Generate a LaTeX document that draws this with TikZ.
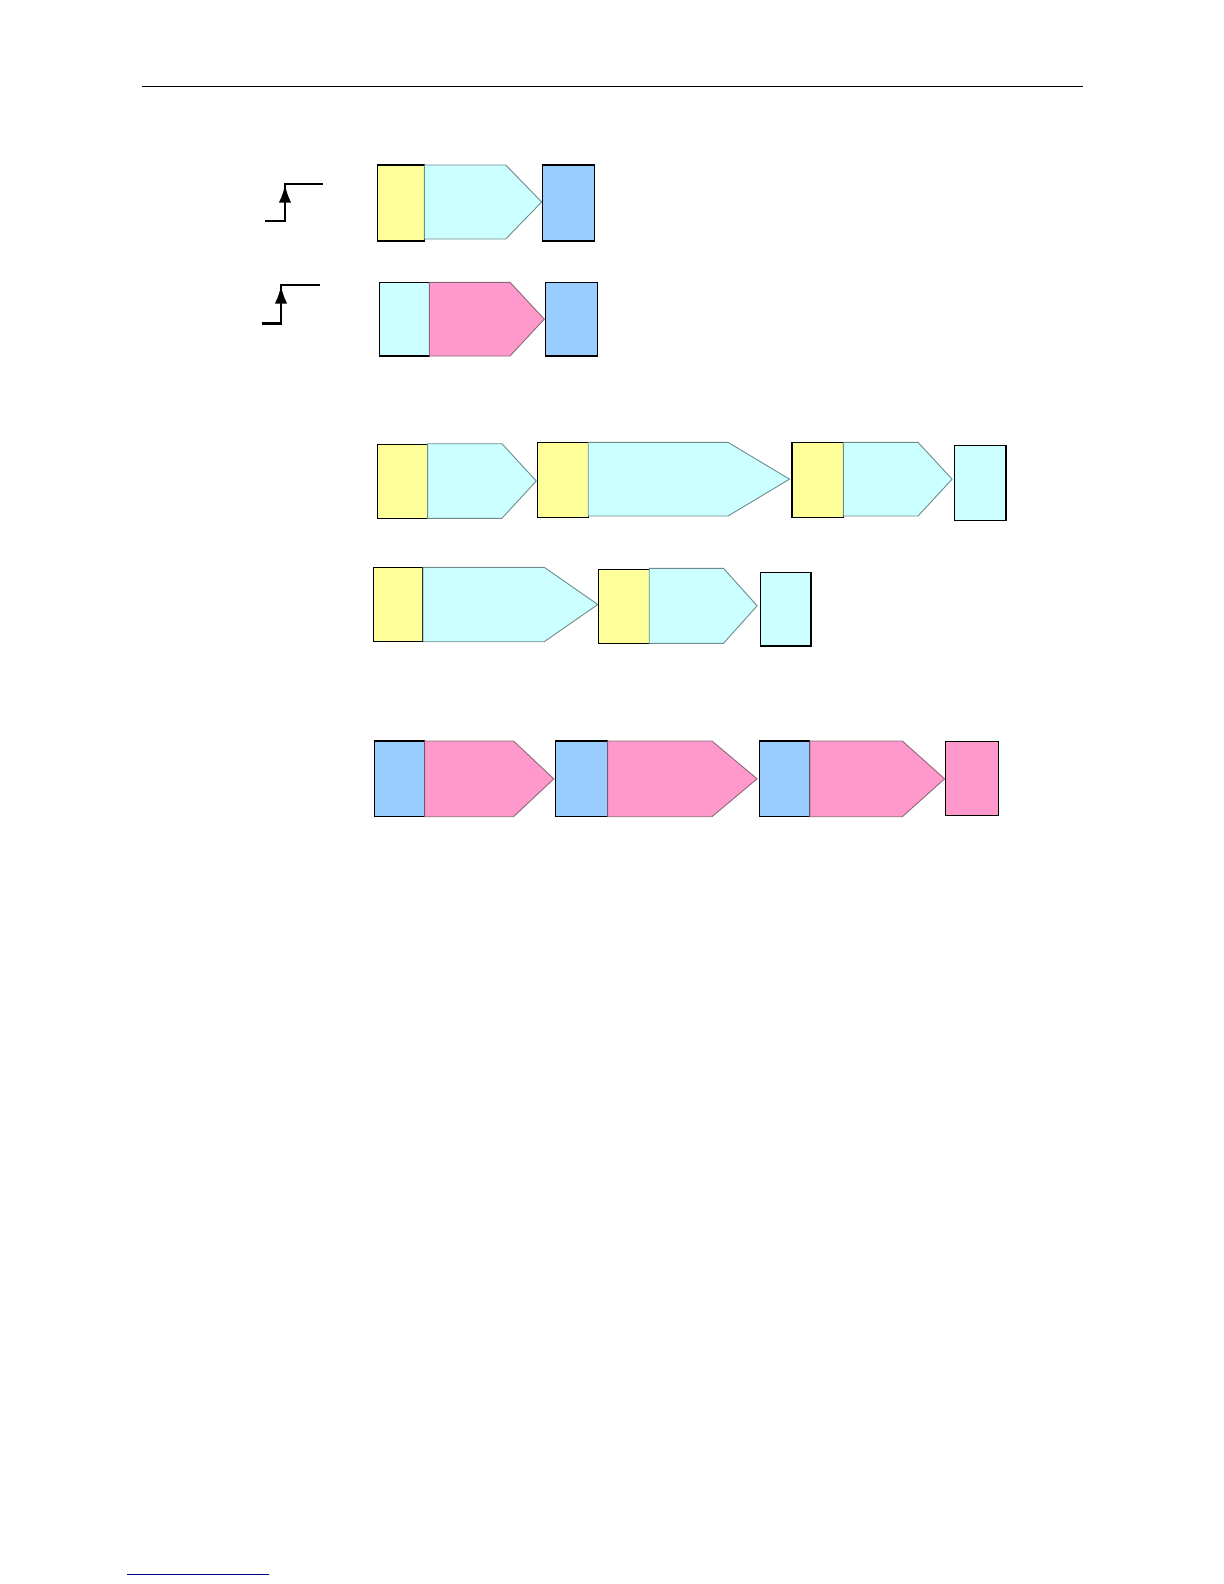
\documentclass[tikz,border=0pt]{standalone}
\usetikzlibrary{arrows.meta}
\definecolor{cyell}{HTML}{FFFF99}
\definecolor{ccyan}{HTML}{CCFFFF}
\definecolor{cblue}{HTML}{99CCFF}
\definecolor{cpink}{HTML}{FF99CC}
\definecolor{cyanedge}{RGB}{110,140,140}
\definecolor{pinkedge}{RGB}{140,105,120}
\definecolor{navyline}{RGB}{0,0,128}
\tikzset{
  box/.style={draw=black,line width=0.55pt},
  penta/.style={line width=0.45pt,line join=miter},
  stepline/.style={line width=1.4pt},
  steptip/.style={-{Latex[length=9pt,width=6.2pt]},line width=1.4pt}
}
% \pentarrow{color}{edge}{xleft}{xshoulder}{xtip}{ytop}{ybot}
\newcommand\pentarrow[7]{%
  \path[penta,fill=#1,draw=#2] (#3,#6) -- (#4,#6) -- (#5,{(#6+#7)/2}) -- (#4,#7) -- (#3,#7) -- cycle;}
\newcommand\rbox[5]{%
  \path[box,fill=#1] (#2,#3) rectangle (#4,#5);}
\begin{document}
\begin{tikzpicture}[x=0.5pt,y=-0.5pt]
\useasboundingbox[fill=white] (0,0) rectangle (1224,1584);
% header rule
\draw[line width=0.6pt] (141.5,86.7) coordinate (hl) -- (1082.5,86.7) coordinate (hr);
% footer rule
\draw[navyline,line width=0.6pt] (127.3,1574.7) coordinate (fl) -- (269,1574.7) coordinate (fr);

% step symbols
\draw[stepline] (265,221) -- (285,221) -- (285,184) -- (322.7,184);
\draw[steptip] (285,208) -- (285,184.5);
\draw[stepline] (261.7,323.3) -- (281,323.3) -- (281,285) -- (320,285);
\draw[steptip] (281,310) -- (281,285.5);

% row 1
\rbox{cyell}{377.3}{165}{424.3}{241}
\pentarrow{ccyan}{cyanedge}{424.3}{505.7}{541.7}{165}{239}
\rbox{cblue}{542.7}{165}{594.3}{241}

% row 2
\rbox{ccyan}{379.3}{282.3}{429.3}{356}
\pentarrow{cpink}{pinkedge}{429.3}{510}{544.3}{282.3}{356}
\rbox{cblue}{545.3}{282.3}{597.7}{356}

% row 3
\rbox{cyell}{377.4}{444.3}{427.6}{518.3}
\pentarrow{ccyan}{cyanedge}{427.6}{501.9}{536.3}{443.7}{518.3}
\rbox{cyell}{537.6}{442.3}{588.2}{517.3}
\pentarrow{ccyan}{cyanedge}{588.2}{728}{789.5}{442.3}{516}
\rbox{cyell}{792}{442.3}{843.4}{517.3}
\pentarrow{ccyan}{cyanedge}{843.4}{918}{952.1}{442.3}{516}
\rbox{ccyan}{954.6}{445.7}{1006}{520.7}

% row 4
\rbox{cyell}{373.3}{567.3}{423}{641.7}
\pentarrow{ccyan}{cyanedge}{423}{544.2}{597.8}{567.3}{641.7}
\rbox{cyell}{598.6}{569.3}{649.2}{643.3}
\pentarrow{ccyan}{cyanedge}{649.2}{723.5}{757.1}{568.3}{643.3}
\rbox{ccyan}{760.4}{572.3}{811}{646}

% row 5
\rbox{cblue}{374.5}{741}{424.7}{816.7}
\pentarrow{cpink}{pinkedge}{424.7}{513.5}{553.8}{741}{816.7}
\rbox{cblue}{555.4}{741}{607.7}{816.7}
\pentarrow{cpink}{pinkedge}{607.7}{711.9}{757.1}{741}{816.7}
\rbox{cblue}{759.2}{741}{809.8}{816.7}
\pentarrow{cpink}{pinkedge}{809.8}{902.3}{944.6}{741}{816.7}
\rbox{cpink}{945.9}{741.3}{998.2}{815.3}
\end{tikzpicture}
\end{document}
